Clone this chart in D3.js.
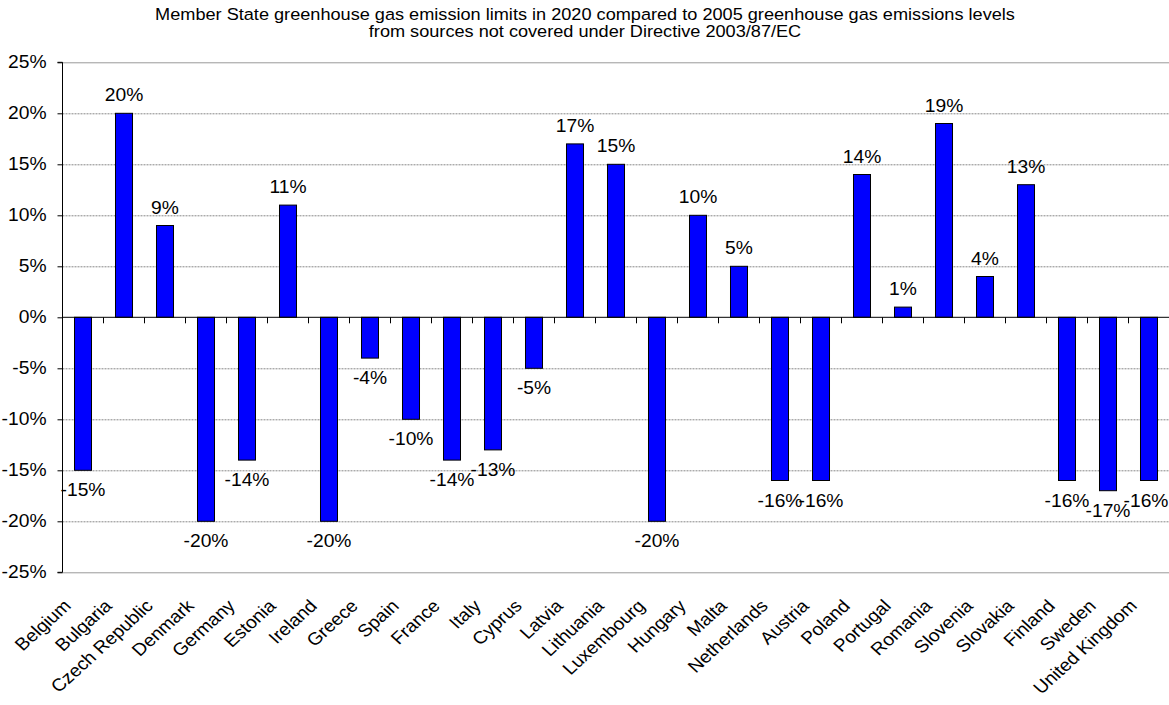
<!DOCTYPE html>
<html><head><meta charset="utf-8">
<script src="https://cdn.jsdelivr.net/npm/d3@7"></script>
<style>body{margin:0;background:#fff;} text{font-family:"Liberation Sans",Arial,sans-serif;}</style>
</head><body>
<svg id="c" width="1169" height="705"></svg>
<script>
const categories = ["Belgium","Bulgaria","Czech Republic","Denmark","Germany","Estonia","Ireland","Greece","Spain","France","Italy","Cyprus","Latvia","Lithuania","Luxembourg","Hungary","Malta","Netherlands","Austria","Poland","Portugal","Romania","Slovenia","Slovakia","Finland","Sweden","United Kingdom"];
const values = [-15,20,9,-20,-14,11,-20,-4,-10,-14,-13,-5,17,15,-20,10,5,-16,-16,14,1,19,4,13,-16,-17,-16];
const yTicks = [-25,-20,-15,-10,-5,0,5,10,15,20,25];
const titleLines = ["Member State greenhouse gas emission limits in 2020 compared to 2005 greenhouse gas emissions levels","from sources not covered under Directive 2003/87/EC"];

const svg = d3.select("#c");
const SX = 1.1; // horizontal stretch of the original chart image
const W = 1169;
const L = 62.5, R = 1169, T = 62.3, B = 572.3;
const x = d3.scaleBand().domain(categories).range([L, L + 41*27]).paddingInner(0.585).paddingOuter(0.2925);
const y = d3.scaleLinear().domain([-25,25]).range([B,T]);

// title
svg.append("g").attr("transform",`translate(585,0) scale(${SX},1)`)
  .selectAll("text").data(titleLines).join("text")
  .attr("x", 0).attr("y",(d,i)=>20+i*17).attr("text-anchor","middle")
  .attr("font-size",16.5).text(d=>d);

// gridlines
svg.append("g").selectAll("line").data(yTicks.filter(v=>v!==0)).join("line")
  .attr("x1",L).attr("x2",R).attr("y1",d=>y(d)+0.5).attr("y2",d=>y(d)+0.5)
  .attr("stroke",d=>(d===25||d===-25)?"#999":"#888")
  .attr("stroke-width",1)
  .attr("stroke-dasharray",d=>(d===25||d===-25)?null:"2,1");

// bars
svg.append("g").selectAll("rect").data(values).join("rect")
  .attr("x",(d,i)=>x(categories[i]))
  .attr("width",x.bandwidth())
  .attr("y",d=>y(Math.max(0,d)))
  .attr("height",d=>Math.abs(y(d)-y(0)))
  .attr("fill","#0000FF").attr("stroke","#000").attr("stroke-width",1);

// zero axis
const step = x.step();
svg.append("line").attr("x1",L).attr("x2",R).attr("y1",y(0)).attr("y2",y(0)).attr("stroke","#000");
svg.append("g").selectAll("line").data(d3.range(1,28)).join("line")
  .attr("x1",i=>L+i*step).attr("x2",i=>L+i*step)
  .attr("y1",y(0)).attr("y2",y(0)+6).attr("stroke","#000");

// y axis
const yAxis = d3.axisLeft(y).tickValues(yTicks).tickSize(5).tickFormat(d=>d+"%");
const ga = svg.append("g").attr("transform",`translate(${L},0)`).call(yAxis);
ga.select(".domain").attr("stroke","#000").attr("d",`M-5,${T}H0V${B}H-5`);
ga.selectAll(".tick text").attr("font-size",17.5).attr("font-family","Liberation Sans, Arial, sans-serif")
  .attr("fill","#000").attr("x",-16/SX).attr("transform",`scale(${SX},1)`);
ga.selectAll(".tick line").attr("stroke","#000");

// value labels
const vl = svg.append("g").selectAll("text").data(values).join("text")
  .attr("text-anchor","middle").attr("font-size",17.5).text(d=>d+"%");
vl.each(function(d,i){
  const half = this.getComputedTextLength()*SX/2;
  const cx = Math.min(x(categories[i])+x.bandwidth()/2, W-half-0.5);
  d3.select(this).attr("transform",`translate(${cx},${d>=0 ? y(d)-12 : y(d)+26}) scale(${SX},1)`);
});

// x labels
svg.append("g").selectAll("text").data(categories).join("text")
  .attr("transform",d=>`translate(${x(d)+x.bandwidth()/2-11},607) scale(${SX},1) rotate(-45)`)
  .attr("text-anchor","end").attr("font-size",17.5).text(d=>d);
</script>
</body></html>
